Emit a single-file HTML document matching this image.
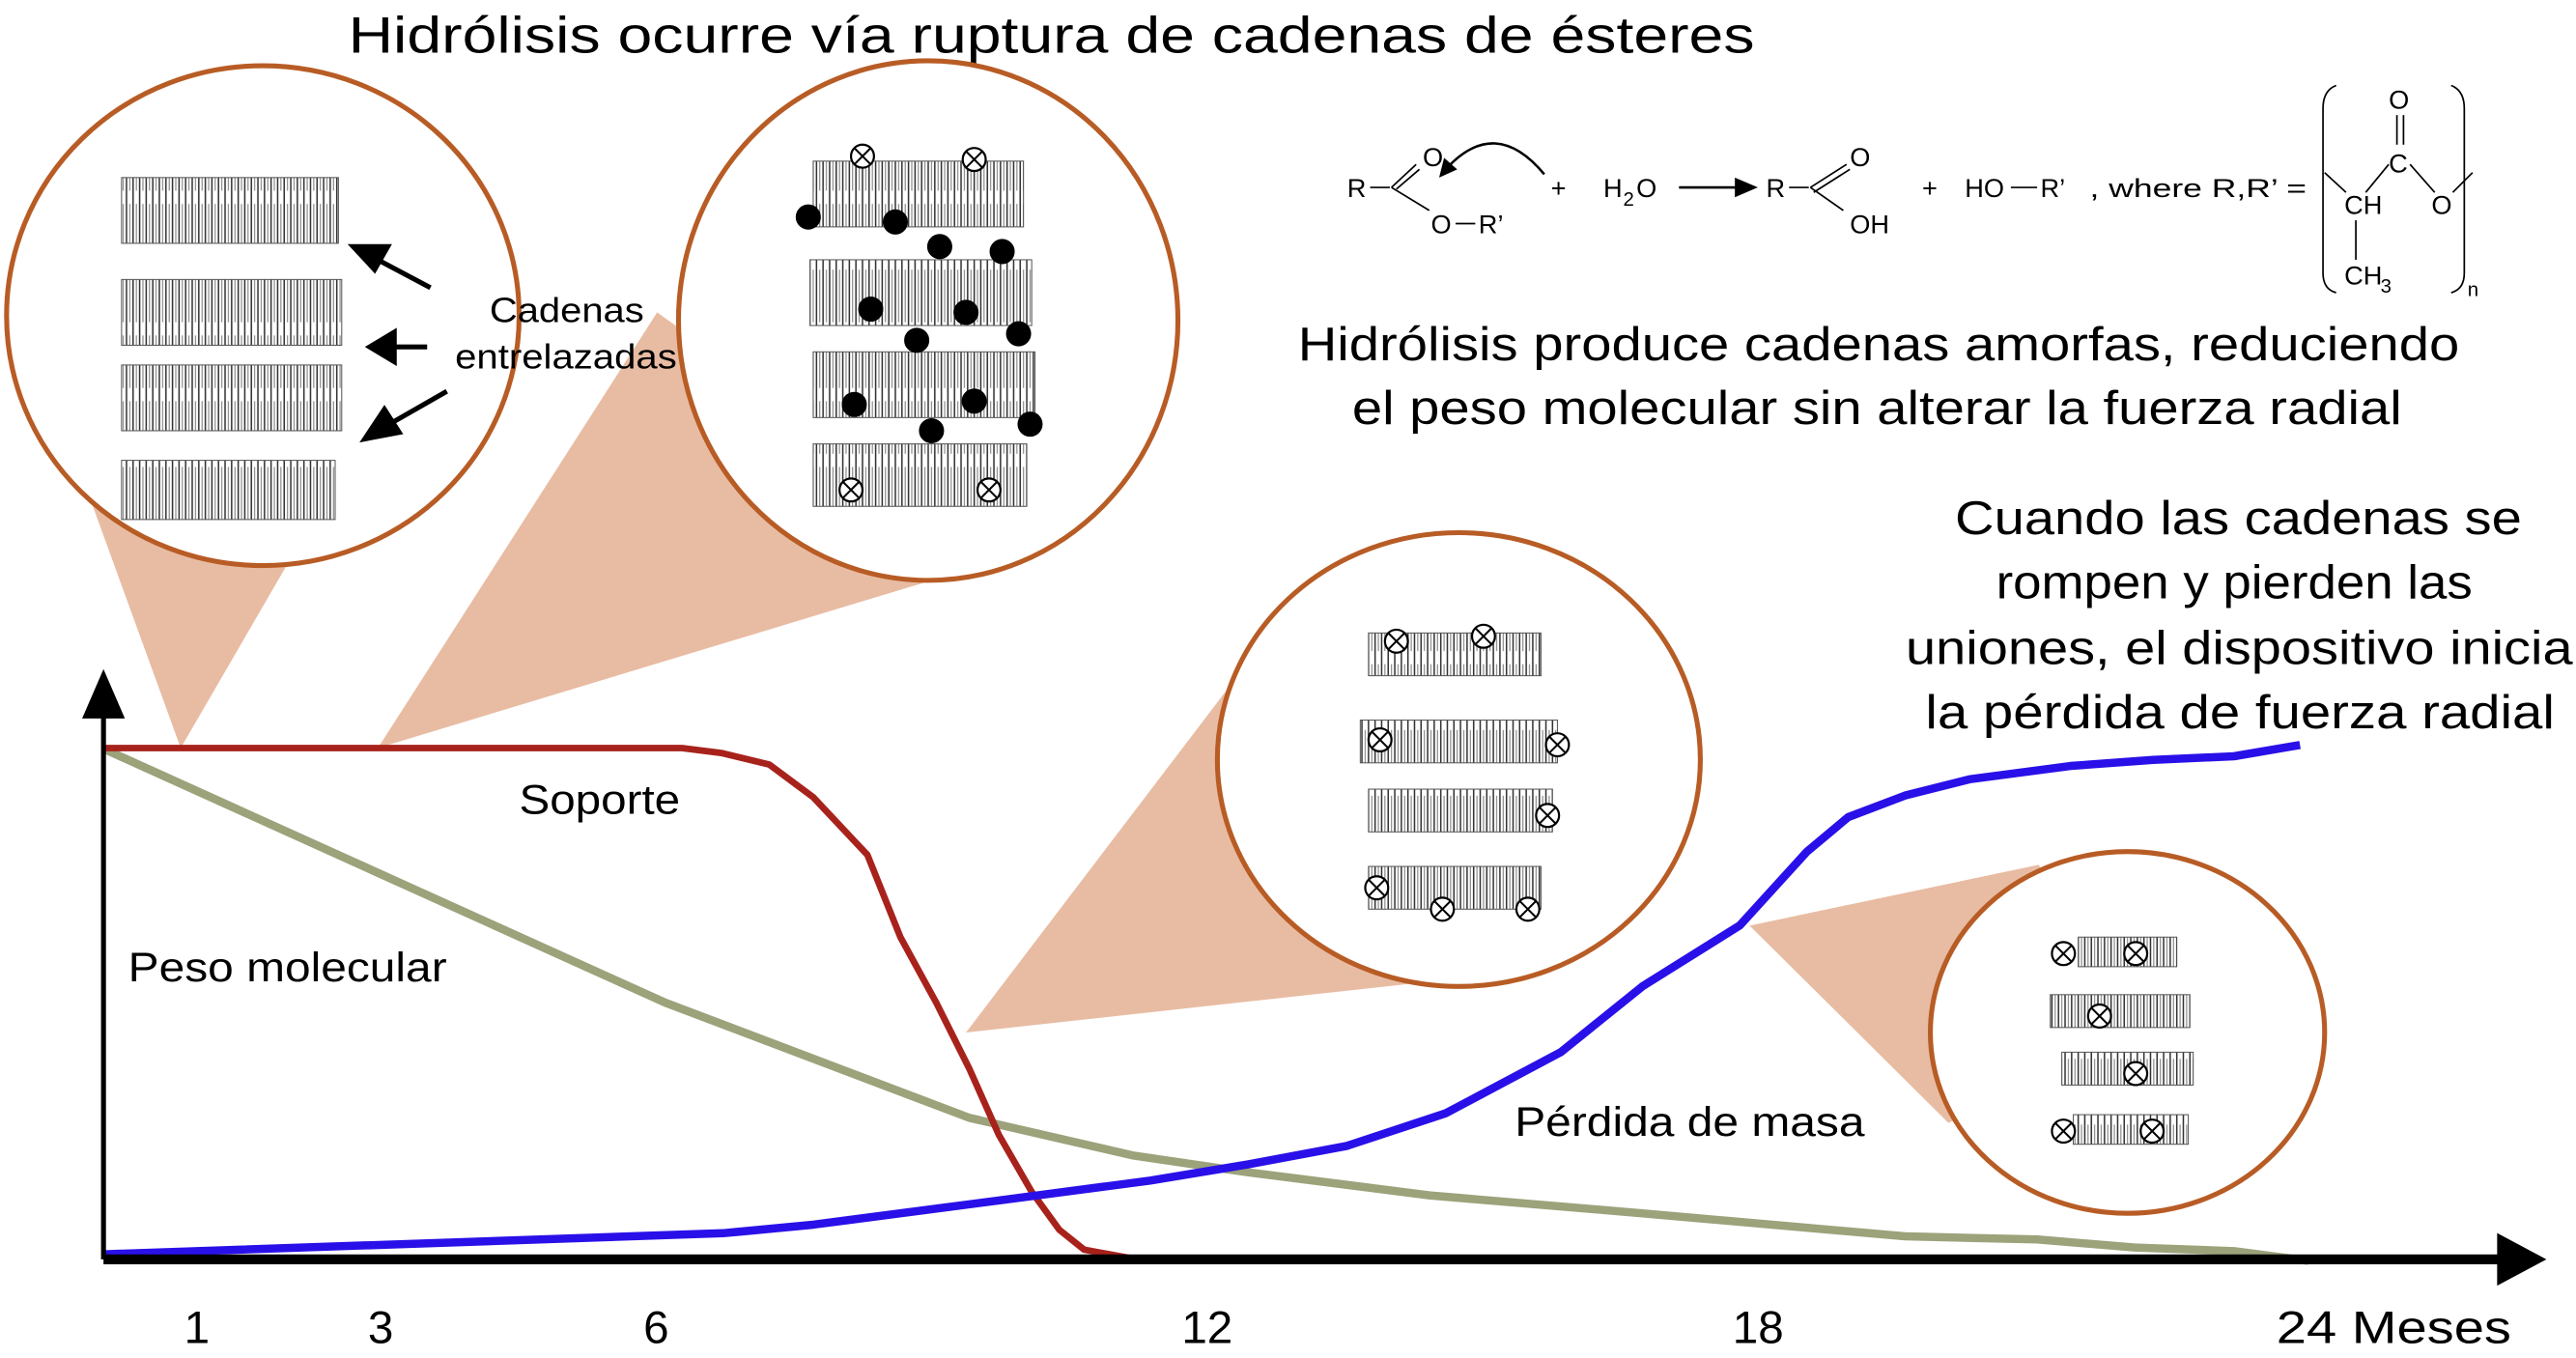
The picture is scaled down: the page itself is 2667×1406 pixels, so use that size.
<!DOCTYPE html>
<html><head><meta charset="utf-8"><style>
html,body{margin:0;padding:0;background:#fff;}
svg{display:block;}
text{font-family:"Liberation Sans",sans-serif;fill:#000;}
</style></head><body>
<svg id="chart" width="2667" height="1406" viewBox="0 0 1568 826" preserveAspectRatio="none" xmlns="http://www.w3.org/2000/svg">
<defs>
<pattern id="stk" width="4" height="40" patternUnits="userSpaceOnUse">
<rect width="4" height="40" fill="#fff"/><line x1="1" y1="0" x2="1" y2="40" stroke="#333" stroke-width="0.9"/><line x1="3" y1="4" x2="3" y2="36" stroke="#777" stroke-width="0.6"/>
</pattern>
</defs>
<text x="212" y="32" font-size="31" textLength="856" lengthAdjust="spacingAndGlyphs">Hidrólisis ocurre vía ruptura de cadenas de ésteres</text>

<g fill="#e8bca3">
<polygon points="110,455 50,290 200,300"/>
<polygon points="230,455 400,190 610,340"/>
<polygon points="588,628 748,418 888,462 862,598"/>
<polygon points="1065,563 1241,526 1295,628 1186,683"/>
</g>
<g fill="#fff" stroke="#b85c25" stroke-width="3">
<ellipse cx="160" cy="192" rx="156" ry="152"/>
<ellipse cx="565" cy="195" rx="152" ry="158"/>
<ellipse cx="888" cy="462" rx="147" ry="138"/>
<ellipse cx="1295" cy="628" rx="120" ry="110"/>
</g>
<g id="molecules"></g>
<g stroke="#000" stroke-width="3" fill="#000">
<line x1="262" y1="175" x2="230" y2="158"/><polygon points="215,150 236,150 228,164"/>
<line x1="260" y1="211" x2="238" y2="211"/><polygon points="225,211 240,202 240,220"/>
<line x1="272" y1="238" x2="237" y2="258"/><polygon points="222,267 234,249 243,263"/>
</g>
<text font-size="21"><tspan x="298" y="196" textLength="94" lengthAdjust="spacingAndGlyphs">Cadenas</tspan><tspan x="277" y="224" textLength="135" lengthAdjust="spacingAndGlyphs">entrelazadas</tspan></text>

<g font-size="16">
<text x="820" y="120">R</text><line x1="834" y1="114" x2="846" y2="114" stroke="#000"/>
<line x1="847" y1="114" x2="862" y2="100" stroke="#000"/><line x1="850" y1="115" x2="864" y2="103" stroke="#000"/>
<text x="866" y="101">O</text><line x1="847" y1="114" x2="870" y2="128" stroke="#000"/>
<text x="871" y="142">O</text><line x1="886" y1="136" x2="898" y2="136" stroke="#000"/><text x="900" y="142">R’</text>
<path d="M940,106 Q910,70 880,103" fill="none" stroke="#000" stroke-width="1.5"/><polygon points="876,108 879,96 887,103" fill="#000"/>
<text x="944" y="120">+</text><text x="976" y="120">H</text><text x="988" y="125" font-size="12">2</text><text x="996" y="120">O</text>
<line x1="1022" y1="114" x2="1058" y2="114" stroke="#000" stroke-width="1.5"/><polygon points="1070,114 1056,108 1056,120" fill="#000"/>
<text x="1075" y="120">R</text><line x1="1089" y1="114" x2="1101" y2="114" stroke="#000"/>
<line x1="1102" y1="114" x2="1124" y2="100" stroke="#000"/><line x1="1104" y1="117" x2="1126" y2="103" stroke="#000"/>
<text x="1126" y="101">O</text><line x1="1102" y1="114" x2="1122" y2="128" stroke="#000"/><text x="1126" y="142">OH</text>
<text x="1170" y="120">+</text><text x="1196" y="120">HO</text><line x1="1224" y1="114" x2="1240" y2="114" stroke="#000"/><text x="1242" y="120">R’</text>
<text x="1272" y="120" font-size="16" textLength="132" lengthAdjust="spacingAndGlyphs">, where  R,R’ =</text>
<path d="M1422,52 Q1414,55 1414,66 L1414,166 Q1414,176 1422,178" fill="none" stroke="#000"/>
<path d="M1492,52 Q1500,55 1500,66 L1500,166 Q1500,176 1492,178" fill="none" stroke="#000"/>
<text x="1454" y="66">O</text><line x1="1459" y1="70" x2="1459" y2="88" stroke="#000"/><line x1="1463" y1="70" x2="1463" y2="88" stroke="#000"/>
<text x="1454" y="105">C</text><text x="1427" y="130">CH</text><text x="1480" y="130">O</text>
<line x1="1440" y1="117" x2="1454" y2="100" stroke="#000"/><line x1="1467" y1="100" x2="1482" y2="117" stroke="#000"/>
<line x1="1415" y1="105" x2="1428" y2="117" stroke="#000"/><line x1="1493" y1="117" x2="1505" y2="105" stroke="#000"/>
<line x1="1434" y1="134" x2="1434" y2="158" stroke="#000"/><text x="1427" y="173">CH</text><text x="1449" y="178" font-size="12">3</text>
<text x="1502" y="180" font-size="12">n</text>
</g>
<text font-size="29"><tspan x="790" y="219" textLength="707" lengthAdjust="spacingAndGlyphs">Hidrólisis produce cadenas amorfas, reduciendo</tspan><tspan x="823" y="258" textLength="639" lengthAdjust="spacingAndGlyphs">el peso molecular sin alterar la fuerza radial</tspan></text>
<text font-size="29"><tspan x="1190" y="325" textLength="345" lengthAdjust="spacingAndGlyphs">Cuando las cadenas se</tspan><tspan x="1215" y="364" textLength="290" lengthAdjust="spacingAndGlyphs">rompen y pierden las</tspan><tspan x="1160" y="404" textLength="406" lengthAdjust="spacingAndGlyphs">uniones, el dispositivo inicia</tspan><tspan x="1172" y="443" textLength="383" lengthAdjust="spacingAndGlyphs">la pérdida de fuerza radial</tspan></text>

<g id="series"></g>
<g>
<line x1="63" y1="766" x2="63" y2="430" stroke="#000" stroke-width="3"/><polygon points="63,407 50,437 76,437" fill="#000"/>
<line x1="63" y1="766" x2="1525" y2="766" stroke="#000" stroke-width="6"/><polygon points="1550,766 1520,750 1520,782" fill="#000"/>
</g>
<g id="ticks" font-size="28"></g>
<text x="316" y="495" font-size="25" textLength="98" lengthAdjust="spacingAndGlyphs">Soporte</text>
<text x="78" y="597" font-size="25" textLength="194" lengthAdjust="spacingAndGlyphs">Peso molecular</text>
<text x="922" y="691" font-size="25" textLength="213" lengthAdjust="spacingAndGlyphs">Pérdida de masa</text>
</svg>
<script>
const tickMonths = [1, 3, 6, 12, 18, 24];
const tickLabels = ["1", "3", "6", "12", "18", "24 Meses"];
const soporteMonths = [0, 6.28, 6.72, 7.23, 7.71, 8.3, 8.66, 9.05, 9.41, 9.73, 10.09, 10.39, 10.66, 11.32];
const soporteValues = [100, 100, 99, 96.8, 90.4, 79.1, 63, 50.2, 37.3, 24.4, 13.2, 5.8, 1.9, -0.3];
const pesoMonths = [0, 6.1, 9.41, 11.2, 12.45, 14.42, 16.74, 19.6, 21.04, 22.1, 23.18, 23.99];
const pesoValues = [99.7, 50.2, 27.7, 20.3, 17.0, 12.5, 9.0, 4.5, 3.9, 2.3, 1.6, -0.3];
const masaMonths = [0, 6.73, 7.71, 9.77, 11.38, 12.45, 13.52, 14.6, 15.85, 16.74, 17.8, 18.53, 18.98, 19.6, 20.3, 21.4, 22.3, 23.18, 23.9];
const masaValues = [1, 5.1, 6.8, 11.6, 15.4, 18.6, 22.2, 28.6, 40.5, 53.4, 65.3, 79.7, 86.5, 90.7, 93.9, 96.5, 97.7, 98.4, 100.6];

const NS = "http://www.w3.org/2000/svg";
const xS = m => 64 + 55.9 * m;
const yS = v => 766 - v * 3.11;

function line(ms, vs, color, w, name) {
  const p = document.createElementNS(NS, "path");
  p.setAttribute("d", ms.map((m, i) => (i ? "L" : "M") + xS(m).toFixed(1) + "," + yS(vs[i]).toFixed(1)).join(" "));
  p.setAttribute("fill", "none"); p.setAttribute("stroke", color); p.setAttribute("stroke-width", w);
  p.setAttribute("stroke-linejoin", "round");
  
  
  document.getElementById("series").appendChild(p);
}
line(pesoMonths, pesoValues, "#9ca27a", 5, "peso-molecular-line");
line(soporteMonths, soporteValues, "#a8221c", 4, "soporte-line");
line(masaMonths, masaValues, "#2a10e8", 5, "perdida-masa-line");

const tg = document.getElementById("ticks");
tickMonths.forEach((m, i) => {
  const t = document.createElementNS(NS, "text");
  const x = xS(m);
  const last = i === tickMonths.length - 1;
  t.setAttribute("x", last ? x - 20 : x);
  t.setAttribute("y", 817);
  t.setAttribute("text-anchor", last ? "start" : "middle");
  if (last) { t.setAttribute("textLength", "143"); t.setAttribute("lengthAdjust", "spacingAndGlyphs"); }
  t.textContent = tickLabels[i];
  
  
  tg.appendChild(t);
});

const mg = document.getElementById("molecules");
function stack(x, y, w, h) {
  const r = document.createElementNS(NS, "rect");
  r.setAttribute("x", x); r.setAttribute("y", y); r.setAttribute("width", w); r.setAttribute("height", h);
  r.setAttribute("fill", "url(#stk)"); r.setAttribute("stroke", "#555"); r.setAttribute("stroke-width", "0.6");
  
  
  mg.appendChild(r);
}
function mark(x, y, r, filled) {
  const c = document.createElementNS(NS, "circle");
  c.setAttribute("cx", x); c.setAttribute("cy", y); c.setAttribute("r", r);
  c.setAttribute("fill", filled ? "#000" : "#fff"); c.setAttribute("stroke", "#000"); c.setAttribute("stroke-width", "1.3");
  
  
  mg.appendChild(c);
  if (!filled) {
    const p = document.createElementNS(NS, "path");
    const d = r * 0.7;
    p.setAttribute("d", `M${x-d},${y-d}L${x+d},${y+d}M${x+d},${y-d}L${x-d},${y+d}`);
    p.setAttribute("stroke", "#000"); p.setAttribute("stroke-width", "1.2");
    
    
    mg.appendChild(p);
  }
}
[[74,108,132,40],[74,170,134,40],[74,222,134,40],[74,280,130,36]].forEach(s => stack(...s));
[[495,98,128,40],[493,158,135,40],[495,214,135,40],[495,270,130,38]].forEach(s => stack(...s));
[[833,385,105,26],[828,438,120,26],[833,480,112,26],[833,527,105,26]].forEach(s => stack(...s));
[[1265,570,60,18],[1248,605,85,20],[1255,640,80,20],[1262,678,70,18]].forEach(s => stack(...s));
[[525,95],[593,97],[518,298],[602,298],[850,390],[903,387],[840,450],[948,453],[942,496],[838,540],[878,553],[930,553],
 [1256,580],[1300,580],[1278,618],[1300,653],[1256,688],[1310,688]].forEach(p => mark(p[0], p[1], 7, false));
[[492,132],[545,135],[572,150],[610,153],[530,188],[558,207],[588,190],[620,203],[520,246],[567,262],[593,244],[627,258]].forEach(p => mark(p[0], p[1], 7, true));
</script>
</body></html>
